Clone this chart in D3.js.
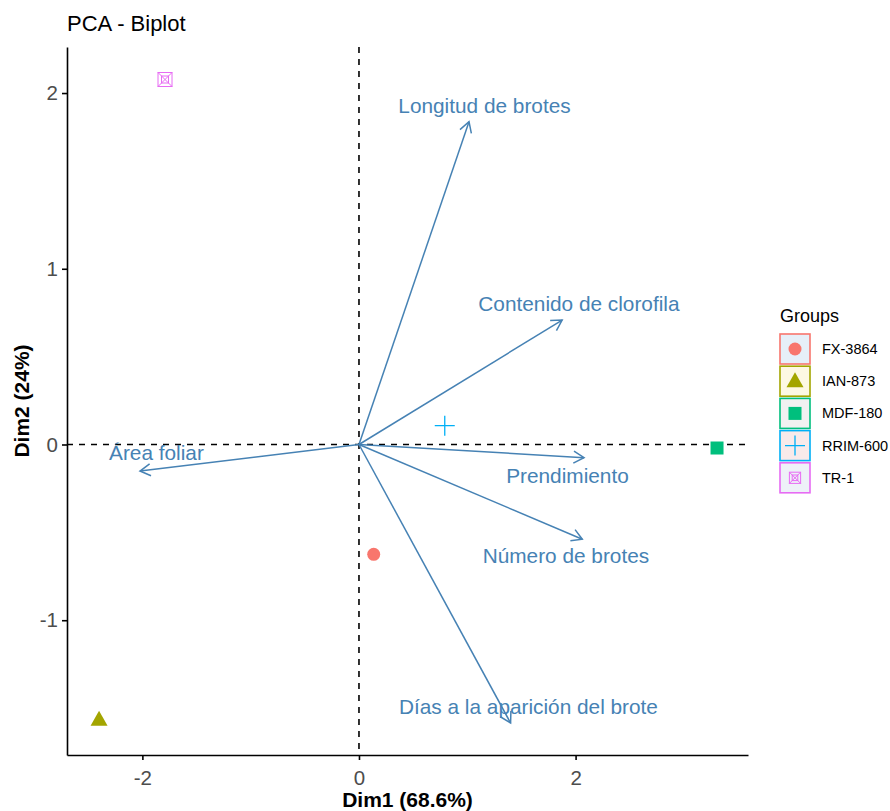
<html>
<head>
  <script src="https://cdn.jsdelivr.net/npm/d3@7"></script>
  <style>
    body { margin: 0; background: #fff; }
    text { font-family: "Liberation Sans", Arial, sans-serif; }
  </style>
</head>
<body>
<svg width="890" height="811" id="chart"></svg>
<script>
  // individuals (groups)
  const groups = ["FX-3864", "IAN-873", "MDF-180", "RRIM-600", "TR-1"];
  const indX = [0.136, -2.40, 3.306, 0.792, -1.791];
  const indY = [-0.625, -1.567, -0.02, 0.107, 2.077];
  const groupColors = ["#F8766D", "#A3A500", "#00BF7D", "#00B0F6", "#E76BF3"];
  const keyFills = ["#e6eff8", "#fdf8e3", "#f1f1f1", "#f8eaea", "#eef1f8"];

  // variables (arrows) and where their labels sit
  const variables = ["Longitud de brotes", "Contenido de clorofila", "Área foliar",
    "Prendimiento", "Número de brotes", "Días a la aparición del brote"];
  const varX = [1.016, 1.876, -2.022, 2.078, 2.062, 1.40];
  const varY = [1.837, 0.708, -0.151, -0.075, -0.539, -1.585];
  const labelX = [1.159, 2.031, -1.870, 1.925, 1.911, 1.565];
  const labelY = [1.926, 0.80, -0.048, -0.179, -0.634, -1.494];

  const xTicks = [-2, 0, 2];
  const yTicks = [-1, 0, 1, 2];

  var svg = d3.select("svg");
  var pLeft = 67, pRight = 748, pTop = 47, pBottom = 755;
  var x = d3.scaleLinear().domain([-2.696, 3.592]).range([pLeft, pRight]);
  var y = d3.scaleLinear().domain([-1.767, 2.262]).range([pBottom, pTop]);
  var steel = "#4682B4";

  // reference lines
  svg.append("line").attr("x1", pLeft).attr("x2", pRight).attr("y1", y(0)).attr("y2", y(0))
    .attr("stroke", "#000").attr("stroke-width", 1.6).attr("stroke-dasharray", "6,6");
  svg.append("line").attr("x1", x(0)).attr("x2", x(0)).attr("y1", pTop).attr("y2", pBottom)
    .attr("stroke", "#000").attr("stroke-width", 1.6).attr("stroke-dasharray", "6,6");

  // axes
  var xAxis = svg.append("g").attr("transform", "translate(0," + pBottom + ")")
    .call(d3.axisBottom(x).tickValues(xTicks).tickSize(5).tickSizeOuter(0));
  var yAxis = svg.append("g").attr("transform", "translate(" + pLeft + ",0)")
    .call(d3.axisLeft(y).tickValues(yTicks).tickSize(5).tickSizeOuter(0));
  [xAxis, yAxis].forEach(function(a) {
    a.select(".domain").attr("stroke", "#000").attr("stroke-width", 1.6);
    a.selectAll(".tick line").attr("stroke", "#000").attr("stroke-width", 1.6);
    a.selectAll(".tick text").attr("fill", "#4D4D4D").attr("font-size", "20.5px")
      .attr("font-family", "Liberation Sans, Arial, sans-serif")
      .text(function(d) { return d < 0 ? "-" + Math.abs(d) : d; });
  });
  xAxis.selectAll(".tick text").attr("dy", "1.05em");
  yAxis.selectAll(".tick text").attr("x", -9);

  // titles
  svg.append("text").attr("x", pLeft).attr("y", 31).attr("font-size", "22px").attr("fill", "#000")
    .text("PCA - Biplot");
  svg.append("text").attr("x", (pLeft + pRight) / 2).attr("y", 807).attr("text-anchor", "middle")
    .attr("font-size", "21px").attr("font-weight", "bold").text("Dim1 (68.6%)");
  svg.append("text").attr("transform", "translate(29," + (pTop + pBottom) / 2 + ") rotate(-90)")
    .attr("text-anchor", "middle").attr("font-size", "21px").attr("font-weight", "bold")
    .text("Dim2 (24%)");

  // arrows
  var ag = svg.append("g");
  variables.forEach(function(v, i) {
    var x0 = x(0), y0 = y(0), x1 = x(varX[i]), y1 = y(varY[i]);
    var ang = Math.atan2(y1 - y0, x1 - x0), hl = 12, ha = Math.PI / 6;
    ag.append("line").attr("x1", x0).attr("y1", y0).attr("x2", x1).attr("y2", y1)
      .attr("stroke", steel).attr("stroke-width", 1.5);
    ag.append("path")
      .attr("d", "M" + (x1 - hl * Math.cos(ang - ha)) + "," + (y1 - hl * Math.sin(ang - ha)) +
        "L" + x1 + "," + y1 +
        "L" + (x1 - hl * Math.cos(ang + ha)) + "," + (y1 - hl * Math.sin(ang + ha)))
      .attr("fill", "none").attr("stroke", steel).attr("stroke-width", 1.5);
    ag.append("text").attr("x", x(labelX[i])).attr("y", y(labelY[i])).attr("dy", "0.35em")
      .attr("text-anchor", "middle").attr("font-size", "20.8px").attr("fill", steel).text(v);
  });

  // point shapes
  function drawShape(g, i, cx, cy, s) {
    var c = groupColors[i];
    if (i === 0) {
      g.append("circle").attr("cx", cx).attr("cy", cy).attr("r", 6.5 * s).attr("fill", c);
    } else if (i === 1) {
      var h = 15 * s, w = 17 * s;
      g.append("path").attr("d", "M" + cx + "," + (cy - h * 0.6) + "L" + (cx + w / 2) + "," + (cy + h * 0.4) +
        "L" + (cx - w / 2) + "," + (cy + h * 0.4) + "Z").attr("fill", c);
    } else if (i === 2) {
      var a = 13 * s;
      g.append("rect").attr("x", cx - a / 2).attr("y", cy - a / 2).attr("width", a).attr("height", a).attr("fill", c);
    } else if (i === 3) {
      var p = 10 * s;
      g.append("path").attr("d", "M" + (cx - p) + "," + cy + "H" + (cx + p) + "M" + cx + "," + (cy - p) + "V" + (cy + p))
        .attr("stroke", c).attr("stroke-width", 1.3).attr("fill", "none");
    } else {
      var o = 7 * s, n = 3.5 * s;
      g.append("rect").attr("x", cx - o).attr("y", cy - o).attr("width", 2 * o).attr("height", 2 * o)
        .attr("fill", "none").attr("stroke", c).attr("stroke-width", 1);
      g.append("rect").attr("x", cx - n).attr("y", cy - n).attr("width", 2 * n).attr("height", 2 * n)
        .attr("fill", "none").attr("stroke", c).attr("stroke-width", 1);
      g.append("path").attr("d", "M" + (cx - o) + "," + (cy - o) + "L" + (cx + o) + "," + (cy + o) +
        "M" + (cx + o) + "," + (cy - o) + "L" + (cx - o) + "," + (cy + o))
        .attr("stroke", c).attr("stroke-width", 1).attr("fill", "none");
    }
  }

  var pg = svg.append("g");
  groups.forEach(function(gname, i) {
    drawShape(pg, i, x(indX[i]), y(indY[i]), 1);
  });

  // legend
  var lg = svg.append("g");
  lg.append("text").attr("x", 780).attr("y", 322).attr("font-size", "18px").text("Groups");
  groups.forEach(function(gname, i) {
    var by = 334 + i * 32.2;
    lg.append("rect").attr("x", 780).attr("y", by).attr("width", 30).attr("height", 30)
      .attr("fill", keyFills[i]).attr("stroke", groupColors[i]).attr("stroke-width", 1.6);
    drawShape(lg, i, 795, by + 15, i === 4 ? 0.8 : 1);
    lg.append("text").attr("x", 822).attr("y", by + 15).attr("dy", "0.35em")
      .attr("font-size", "14.5px").text(gname);
  });
</script>
</body>
</html>
